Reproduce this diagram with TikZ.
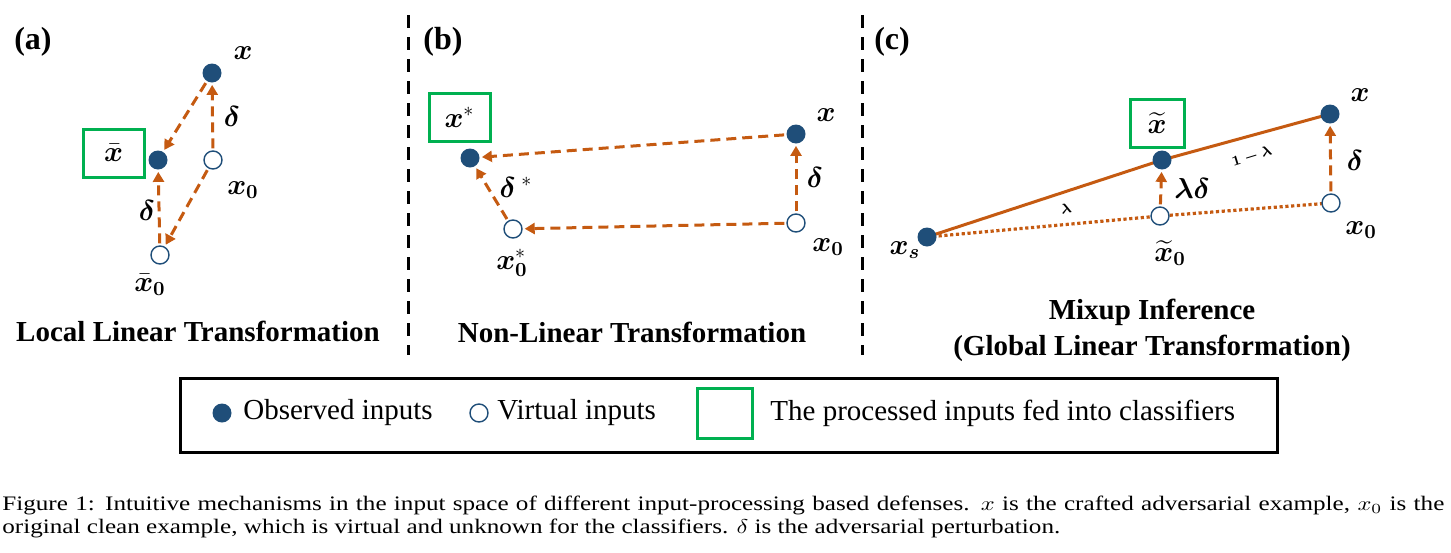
\documentclass[tikz,border=0pt]{standalone}
\usepackage{amsmath}
\usepackage{bm}
\usepackage{fontspec}
\setmainfont{Liberation Serif}
\usetikzlibrary{arrows.meta}
\definecolor{nodeblue}{RGB}{31,78,121}
\definecolor{arrorange}{RGB}{197,90,17}
\definecolor{boxgreen}{RGB}{0,176,80}
\tikzset{
  obs/.style={circle, fill=nodeblue, minimum size=9.5pt, inner sep=0pt},
  virt/.style={circle, draw=nodeblue, line width=0.7pt, fill=white, minimum size=9pt, inner sep=0pt},
  darr/.style={draw=arrorange, line width=1.5pt, dash pattern=on 5pt off 3pt, -{Triangle[length=5pt,width=5.5pt]}, shorten >=1pt, shorten <=1pt},
  solidline/.style={draw=arrorange, line width=1.5pt},
  dotline/.style={draw=arrorange, line width=1.6pt, dash pattern=on 1.6pt off 1.3pt},
  procbox/.style={draw=boxgreen, line width=1.5pt, minimum height=24pt, inner sep=0pt},
  lbl/.style={font=\fontsize{14.5}{16}\selectfont, inner sep=0pt},
  smalllbl/.style={font=\fontsize{7.5}{9}\selectfont, inner sep=0pt},
  ttl/.style={font=\fontsize{14.5}{17}\selectfont\bfseries, inner sep=0pt},
  plabel/.style={font=\fontsize{16}{18}\selectfont\bfseries, inner sep=0pt},
  divider/.style={draw=black, line width=1.5pt, dash pattern=on 6.5pt off 4.5pt},
  legtext/.style={font=\fontsize{14.5}{17}\selectfont, inner sep=0pt, anchor=west},
  captext/.style={font=\fontsize{10.3}{12}\selectfont, inner sep=0pt, anchor=west}
}
\begin{document}
\begin{tikzpicture}[x=0.5pt, y=-0.5pt]
\useasboundingbox (0,0) rectangle (1451,552);
% ---------- panel (a)
\node[plabel] (pa) at (33,42) {(a)};
\node[obs] (ax) at (212,73) {};
\node[obs] (axb) at (158,160) {};
\node[virt] (ax0) at (213,160) {};
\node[virt] (axb0) at (160,255) {};
\node[procbox, minimum width=30.5pt] (abox) at (113.5,153) {\fontsize{14.5}{16}\selectfont$\bar{\bm{x}}$};
\node[lbl] (ax-l) at (243,53) {$\bm{x}$};
\node[lbl] (ax0-l) at (243,190) {$\bm{x}_{\bm{0}}$};
\node[lbl] (axb0-l) at (150,285) {$\bar{\bm{x}}_{\bm{0}}$};
\node[lbl] (ad1) at (232,116) {$\bm{\delta}$};
\node[lbl] (ad2) at (147,210) {$\bm{\delta}$};
\draw[darr] (ax) -- (axb);
\draw[darr] (ax0) -- (ax);
\draw[darr] (ax0) -- (axb0);
\draw[darr] (axb0) -- (axb);
\node[ttl] (at) at (198,331) {Local Linear Transformation};
% ---------- divider
\coordinate (d1t) at (408,15);
\coordinate (d1b) at (408,355);
\draw[divider] (d1t) -- (d1b);
% ---------- panel (b)
\node[plabel] (pb) at (443,42) {(b)};
\node[obs] (bxs) at (470,158) {};
\node[obs] (bx) at (796,134) {};
\node[virt] (bx0) at (796,223) {};
\node[virt] (bx0s) at (513,229) {};
\node[procbox, minimum width=30.5pt] (bbox) at (459.5,117.5) {\fontsize{14.5}{16}\selectfont$\bm{x}^{*}$};
\node[lbl] (bx-l) at (826,115) {$\bm{x}$};
\node[lbl] (bx0-l) at (828,247) {$\bm{x}_{\bm{0}}$};
\node[lbl] (bx0s-l) at (512,263) {$\bm{x}_{\bm{0}}^{*}$};
\node[lbl] (bd) at (815,177) {$\bm{\delta}$};
\node[lbl] (bds) at (516,187) {$\bm{\delta}^{\;*}$};
\draw[darr] (bx) -- (bxs);
\draw[darr] (bx0) -- (bx0s);
\draw[darr] (bx0) -- (bx);
\draw[darr] (bx0s) -- (bxs);
\node[ttl] (bt) at (632,332) {Non-Linear Transformation};
% ---------- divider
\coordinate (d2t) at (862,15);
\coordinate (d2b) at (862,355);
\draw[divider] (d2t) -- (d2b);
% ---------- panel (c)
\node[plabel] (pc) at (892,42) {(c)};
\node[procbox, minimum width=27pt] (cbox) at (1157,123) {\fontsize{14.5}{16}\selectfont$\widetilde{\bm{x}}$};
\coordinate (cxs) at (927,237);
\coordinate (cxt) at (1162,160);
\coordinate (cx) at (1330,114);
\coordinate (cxt0) at (1160,216);
\coordinate (cx0) at (1331,203);
\draw[solidline] (cxs) -- (cxt) -- (cx);
\draw[dotline] (cxs) -- (cxt0) -- (cx0);
\node[obs] (cxsn) at (cxs) {};
\node[obs] (cxtn) at (cxt) {};
\node[obs] (cxn) at (cx) {};
\node[virt] (cxt0n) at (cxt0) {};
\node[virt] (cx0n) at (cx0) {};
\node[lbl] (cxs-l) at (905,250) {$\bm{x}_{\bm{s}}$};
\node[lbl] (cx-l) at (1360,95) {$\bm{x}$};
\node[lbl] (cxt0-l) at (1170,253) {$\widetilde{\bm{x}}_{\bm{0}}$};
\node[lbl] (cx0-l) at (1361,230) {$\bm{x}_{\bm{0}}$};
\node[lbl] (cld) at (1192,188) {$\bm{\lambda\delta}$};
\node[lbl] (cd) at (1355,160) {$\bm{\delta}$};
\node[smalllbl, rotate=12] (cl) at (1066,209) {$\bm{\lambda}$};
\node[smalllbl, rotate=17] (c1l) at (1252,157) {$\bm{1-\lambda}$};
\draw[darr] (cxt0n) -- (cxtn);
\draw[darr] (cx0n) -- (cxn);
\node[ttl] (ct1) at (1152,312) {Mixup Inference};
\node[ttl] (ct2) at (1152,348) {(Global Linear Transformation)};
% ---------- legend
\node[draw=black, line width=1.5pt, minimum width=548.5pt, minimum height=37pt, inner sep=0pt] (leg) at (728.5,415) {};
\node[obs, minimum size=9.5pt] (lobs) at (222,413) {};
\node[legtext] (lobs-t) at (243,413) {Observed inputs};
\node[virt, minimum size=9pt] (lvirt) at (479,413) {};
\node[legtext] (lvirt-t) at (497,413) {Virtual inputs};
\node[procbox, minimum width=27.5pt, minimum height=25pt] (lbox) at (724.5,413) {};
\node[legtext] (lbox-t) at (770,413) {The processed inputs fed into classifiers};
% ---------- caption
\node[captext] (cap1) at (2,505) {\scalebox{1.22}[1]{\makebox[591pt][s]{Figure 1: Intuitive mechanisms in the input space of different input-processing based defenses. $x$ is the crafted adversarial example, $x_0$ is the}}};
\node[captext] (cap2) at (2,528) {\scalebox{1.22}[1]{original clean example, which is virtual and unknown for the classifiers. $\delta$ is the adversarial perturbation.}};
\end{tikzpicture}
\end{document}
